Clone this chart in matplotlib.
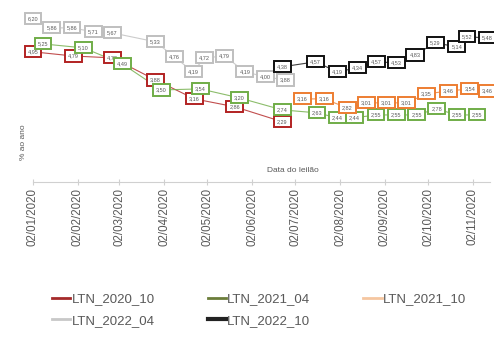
import pandas as pd
import matplotlib
matplotlib.use("Agg")
import matplotlib.pyplot as plt
from matplotlib.lines import Line2D

plt.rcParams['font.family'] = ['Liberation Sans', 'DejaVu Sans']

# Dados (taxas em % ao ano)
dates_2020_10 = ['2020-01-02', '2020-01-30', '2020-02-26', '2020-03-27',
                 '2020-04-23', '2020-05-21', '2020-06-23']
vals_2020_10 = [4.95, 4.79, 4.72, 3.88, 3.16, 2.86, 2.29]

dates_2021_04 = ['2020-01-09', '2020-02-06', '2020-03-04', '2020-03-31',
                 '2020-04-27', '2020-05-24', '2020-06-23', '2020-07-17',
                 '2020-07-31', '2020-08-12', '2020-08-27', '2020-09-10',
                 '2020-09-24', '2020-10-08', '2020-10-22', '2020-11-05']
vals_2021_04 = [5.25, 5.10, 4.49, 3.50, 3.54, 3.20, 2.74, 2.63,
                2.44, 2.44, 2.55, 2.55, 2.55, 2.78, 2.55, 2.55]

dates_2021_10 = ['2020-07-07', '2020-07-22', '2020-08-07', '2020-08-20',
                 '2020-09-03', '2020-09-17', '2020-10-01', '2020-10-16',
                 '2020-10-31', '2020-11-12']
vals_2021_10 = [3.16, 3.16, 2.82, 3.01, 3.01, 3.01, 3.35, 3.46, 3.54, 3.46]

dates_2022_04 = ['2020-01-02', '2020-01-15', '2020-01-29', '2020-02-13',
                 '2020-02-26', '2020-03-27', '2020-04-09', '2020-04-22',
                 '2020-04-30', '2020-05-14', '2020-05-28', '2020-06-11',
                 '2020-06-25']
vals_2022_04 = [6.20, 5.86, 5.86, 5.71, 5.67, 5.33, 4.76, 4.19,
                4.72, 4.79, 4.19, 4.00, 3.88]

dates_2022_10 = ['2020-06-23', '2020-07-16', '2020-07-31', '2020-08-14',
                 '2020-08-27', '2020-09-10', '2020-09-23', '2020-10-07',
                 '2020-10-22', '2020-10-29', '2020-11-12']
vals_2022_10 = [4.38, 4.57, 4.19, 4.34, 4.57, 4.53, 4.83, 5.29,
                5.14, 5.52, 5.48]

# nome, datas, valores, cor da legenda, cor da borda/linha
series = [
    ('LTN_2020_10', dates_2020_10, vals_2020_10, '#a52a2a', '#b22222'),
    ('LTN_2021_04', dates_2021_04, vals_2021_04, '#6b7d3a', '#70ad47'),
    ('LTN_2021_10', dates_2021_10, vals_2021_10, '#f5c6a0', '#ed7d31'),
    ('LTN_2022_04', dates_2022_04, vals_2022_04, '#c8c8c8', '#bfbfbf'),
    ('LTN_2022_10', dates_2022_10, vals_2022_10, '#222222', '#111111'),
]

fig = plt.figure(figsize=(4.94, 3.45), dpi=100)
ax = fig.add_axes([33 / 494, 1 - 182 / 345, 457 / 494, 177 / 345])

handles = {}
for name, d, v, lcolor, bcolor in series:
    x = pd.to_datetime(d)
    ax.plot(x, v, color=bcolor, lw=0.8, alpha=0.8, zorder=2)
    for xi, vi in zip(x, v):
        ax.annotate(f"{vi:.2f}".replace('.', ','), (xi, vi),
                    ha='center', va='center', fontsize=4, color='#595959',
                    annotation_clip=False, zorder=3,
                    bbox=dict(boxstyle='square,pad=0.55', fc='white',
                              ec=bcolor, lw=1.4))
    handles[name] = Line2D([], [], color=lcolor,
                           lw=3 if name == 'LTN_2022_10' else 2)

ticks = pd.date_range('2020-01-02', periods=11, freq=pd.DateOffset(months=1))
ax.set_xticks(ticks)
ax.set_xticklabels([t.strftime('%d/%m/%Y') for t in ticks], rotation=90,
                   fontsize=8.3, color='#595959')
ax.set_xlim(pd.Timestamp('2020-01-02'), pd.Timestamp('2020-11-14'))
ax.set_ylim(0, 6.73)
ax.set_yticks([])
for s in ['top', 'right', 'left']:
    ax.spines[s].set_visible(False)
ax.spines['bottom'].set_color('#d0d0d0')
ax.tick_params(axis='x', length=4, color='#d0d0d0', pad=2, direction='inout')

fig.text(293 / 494, 1 - 170 / 345, 'Data do leilão', ha='center',
         va='center', fontsize=6, color='#595959')
fig.text(23 / 494, 1 - 142 / 345, '% ao ano', ha='center', va='center',
         rotation=90, fontsize=6, color='#595959')

order = ['LTN_2020_10', 'LTN_2022_04', 'LTN_2021_04', 'LTN_2022_10',
         'LTN_2021_10']
fig.legend([handles[n] for n in order], order, ncol=3, frameon=False,
           loc='center left', bbox_to_anchor=(40 / 494, 1 - 310 / 345),
           fontsize=9.5, labelcolor='#595959', handlelength=1.4,
           handletextpad=0.1, columnspacing=4.0, labelspacing=0.7)

fig.savefig('out.png', dpi=100, facecolor='white')
